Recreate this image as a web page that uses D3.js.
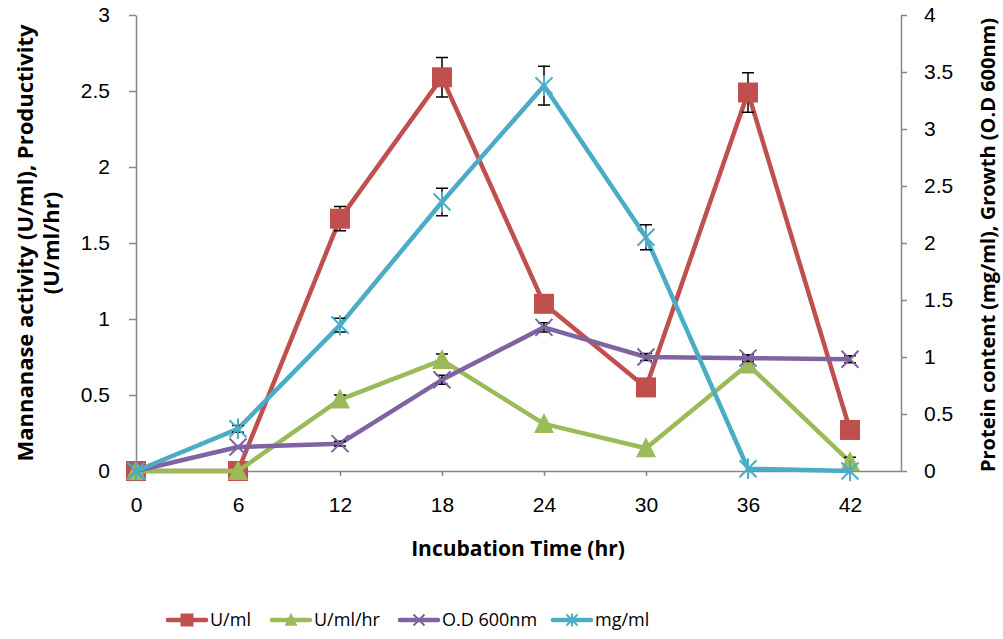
<!DOCTYPE html>
<html>
<head>
  <meta charset="utf-8">
  <title>Mannanase production</title>
  <style>
    body { margin: 0; background: #fff; }
    svg { font-family: "Open Sans", Lato, sans-serif; }
  </style>
  <script src="https://d3js.org/d3.v7.min.js"></script>
</head>
<body>
  <div id="chart"></div>
  <script>
    // incubation time points (hr)
    const times = [0, 6, 12, 18, 24, 30, 36, 42];

    // left axis series
    const unitsPerMl = [0, 0, 1.66, 2.59, 1.10, 0.55, 2.49, 0.27];
    const unitsPerMlErr = [0, 0, 0.08, 0.13, 0, 0, 0.13, 0];
    const productivity = [0, 0, 0.47, 0.73, 0.31, 0.15, 0.70, 0.06];
    const productivityErr = [0, 0, 0.03, 0.04, 0, 0, 0.02, 0.03];

    // right axis series
    const od600 = [0, 0.21, 0.24, 0.80, 1.26, 1.0, 0.99, 0.98];
    const od600Err = [0, 0, 0.02, 0.04, 0.04, 0.03, 0.03, 0.03];
    const protein = [0, 0.37, 1.28, 2.36, 3.38, 2.05, 0.02, 0];
    const proteinErr = [0, 0.03, 0.06, 0.12, 0.17, 0.11, 0, 0];

    const leftTicks = [0, 0.5, 1, 1.5, 2, 2.5, 3];
    const rightTicks = [0, 0.5, 1, 1.5, 2, 2.5, 3, 3.5, 4];

    const series = [
      { name: "U/ml", values: unitsPerMl, err: unitsPerMlErr, axis: "left", color: "#C0504D", marker: "square" },
      { name: "U/ml/hr", values: productivity, err: productivityErr, axis: "left", color: "#9BBB59", marker: "triangle" },
      { name: "O.D 600nm", values: od600, err: od600Err, axis: "right", color: "#8064A2", marker: "x" },
      { name: "mg/ml", values: protein, err: proteinErr, axis: "right", color: "#4BACC6", marker: "star" }
    ];

    const svg = d3.select("#chart").append("svg")
      .attr("width", 1003)
      .attr("height", 639);

    const plot = { left: 136, right: 901, top: 15, bottom: 471 };
    const axisColor = "#868686";

    const x = d3.scaleLinear().domain([0, 45]).range([plot.left, plot.right]);
    const yLeft = d3.scaleLinear().domain([0, 3]).range([plot.bottom, plot.top]);
    const yRight = d3.scaleLinear().domain([0, 4]).range([plot.bottom, plot.top]);

    function styleAxis(g) {
      g.select(".domain").attr("stroke", axisColor).attr("stroke-width", 1.5);
      g.selectAll(".tick line").attr("stroke", axisColor).attr("stroke-width", 1.5);
      g.selectAll(".tick text").attr("fill", "#000").style("font-size", "21px");
    }

    // x axis
    svg.append("g")
      .attr("transform", `translate(0,${plot.bottom})`)
      .call(d3.axisBottom(x).tickValues(times).tickSize(5).tickSizeOuter(0).tickPadding(21))
      .call(styleAxis);

    // left axis
    svg.append("g")
      .attr("transform", `translate(${plot.left},0)`)
      .call(d3.axisLeft(yLeft).tickValues(leftTicks).tickFormat(d => d).tickSize(7).tickSizeOuter(0).tickPadding(19))
      .call(styleAxis);

    // right axis
    svg.append("g")
      .attr("transform", `translate(${plot.right},0)`)
      .call(d3.axisRight(yRight).tickValues(rightTicks).tickFormat(d => d).tickSize(6).tickSizeOuter(0).tickPadding(17))
      .call(styleAxis);

    // axis titles
    svg.append("text")
      .attr("x", 518).attr("y", 556)
      .attr("text-anchor", "middle")
      .style("font-size", "21px").style("font-weight", "bold")
      .text("Incubation Time (hr)");

    const leftTitle = svg.append("text")
      .attr("transform", "translate(33,243) rotate(-90)")
      .attr("text-anchor", "middle")
      .style("font-size", "22px").style("font-weight", "bold");
    leftTitle.append("tspan").attr("x", 0).attr("dy", 0).text("Mannanase activity (U/ml), Productivity");
    leftTitle.append("tspan").attr("x", 0).attr("dy", 26).text("(U/ml/hr)");

    svg.append("text")
      .attr("transform", "translate(995,245) rotate(-90)")
      .attr("text-anchor", "middle")
      .style("font-size", "20px").style("font-weight", "bold")
      .text("Protein content (mg/ml), Growth (O.D 600nm)");

    function drawMarker(g, type, cx, cy, size, color) {
      const h = size / 2;
      if (type === "square") {
        g.append("rect").attr("x", cx - h).attr("y", cy - h)
          .attr("width", size).attr("height", size).attr("fill", color);
      } else if (type === "triangle") {
        g.append("path")
          .attr("d", `M${cx},${cy - h * 1.1}L${cx + h},${cy + h * 0.9}L${cx - h},${cy + h * 0.9}Z`)
          .attr("fill", color);
      } else if (type === "x") {
        g.append("path")
          .attr("d", `M${cx - h},${cy - h}L${cx + h},${cy + h}M${cx - h},${cy + h}L${cx + h},${cy - h}`)
          .attr("stroke", color).attr("stroke-width", 2);
      } else if (type === "star") {
        g.append("path")
          .attr("d", `M${cx - h},${cy - h}L${cx + h},${cy + h}M${cx - h},${cy + h}L${cx + h},${cy - h}M${cx},${cy - h * 1.2}L${cx},${cy + h * 1.2}`)
          .attr("stroke", color).attr("stroke-width", 2);
      }
    }

    series.forEach(s => {
      const y = s.axis === "left" ? yLeft : yRight;
      const g = svg.append("g");
      const line = d3.line()
        .x((d, i) => x(times[i]))
        .y(d => y(d));

      g.append("path")
        .datum(s.values)
        .attr("fill", "none")
        .attr("stroke", s.color)
        .attr("stroke-width", 4.5)
        .attr("stroke-linejoin", "round")
        .attr("d", line);

      // error bars
      s.values.forEach((v, i) => {
        const e = s.err[i];
        if (!e) return;
        const cx = x(times[i]);
        const y1 = y(v + e), y2 = y(Math.max(0, v - e));
        g.append("path")
          .attr("d", `M${cx},${y1}L${cx},${y2}M${cx - 6},${y1}L${cx + 6},${y1}M${cx - 6},${y2}L${cx + 6},${y2}`)
          .attr("stroke", "#000").attr("stroke-width", 1.5).attr("fill", "none");
      });

      s.values.forEach((v, i) => {
        const size = s.marker === "square" || s.marker === "triangle" ? 20 : 17;
        drawMarker(g, s.marker, x(times[i]), y(v), size, s.color);
      });
    });

    // legend
    const legendX = [168, 272, 400, 553];
    series.forEach((s, i) => {
      const g = svg.append("g");
      const x0 = legendX[i], ly = 620;
      g.append("line")
        .attr("x1", x0).attr("x2", x0 + 38)
        .attr("y1", ly).attr("y2", ly)
        .attr("stroke", s.color).attr("stroke-width", 4.5).attr("stroke-linecap", "round");
      drawMarker(g, s.marker, x0 + 19, ly, s.marker === "square" || s.marker === "triangle" ? 13 : 11, s.color);
      g.append("text")
        .attr("x", x0 + 42).attr("y", ly)
        .attr("dy", "0.35em")
        .style("font-size", "18px")
        .text(s.name);
    });
  </script>
</body>
</html>
